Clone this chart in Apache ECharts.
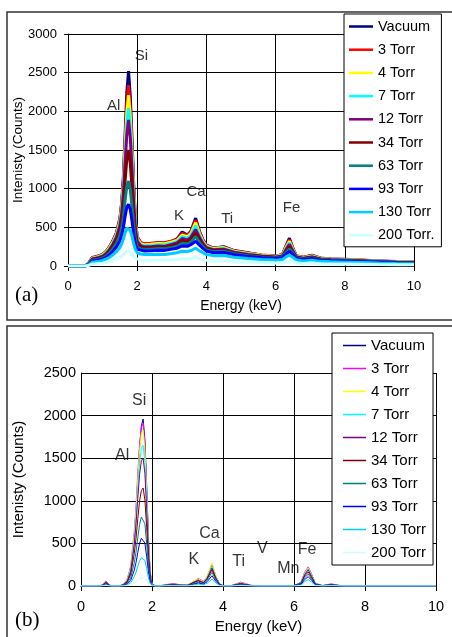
<!DOCTYPE html>
<html><head><meta charset="utf-8">
<script src="https://cdn.jsdelivr.net/npm/echarts@6/dist/echarts.min.js"></script>
<style>
html,body{margin:0;padding:0;background:#fff;}
#ca{position:absolute;left:0;top:0;width:452px;height:323px;}
#cb{position:absolute;left:0;top:323px;width:452px;height:314px;}
</style>
</head><body>
<div id="ca"></div><div id="cb"></div>
<script>
// ---- shared energy axis (keV) ----
const energy = [0,0.5,0.6,0.7,0.8,0.9,1.0,1.1,1.2,1.3,1.4,1.5,1.55,1.6,1.65,1.7,1.75,1.8,1.85,1.9,1.95,2.0,2.1,2.2,2.4,2.6,2.8,3.0,3.15,3.3,3.45,3.55,3.69,3.8,3.9,4.0,4.2,4.5,4.8,5.2,5.6,6.0,6.2,6.3,6.4,6.5,6.6,6.8,7.05,7.3,7.6,8.0,8.5,9.0,9.5,10.0];

const namesA = ['Vacuum','3 Torr','4 Torr','7 Torr','12 Torr','34 Torr','63 Torr','93 Torr','130 Torr','200 Torr.'];
const namesB = ['Vacuum','3 Torr','4 Torr','7 Torr','12 Torr','34 Torr','63 Torr','93 Torr','130 Torr','200 Torr'];
const colorsA = ['#000080','#FF0000','#FFFF00','#00FFFF','#800080','#800000','#008080','#0000FF','#00CCFF','#CCFFFF'];
const colorsB = ['#000080','#FF00FF','#FFFF00','#00FFFF','#800080','#800000','#008080','#0000FF','#00CCFF','#CCFFFF'];

// ---- panel (a) spectra ----
const a_vac  = [0,0,40,110,120,135,150,190,250,330,430,620,820,1150,1700,2250,2520,2200,1650,1050,600,380,300,280,285,300,295,320,350,440,400,450,620,450,340,270,230,250,200,170,140,125,150,260,360,230,130,110,140,100,90,85,75,65,55,50];
const a_3t   = [0,0,35,105,118,130,148,185,245,325,425,600,790,1100,1600,2100,2340,2050,1540,990,575,370,305,290,295,305,300,325,345,420,395,440,590,440,335,268,232,245,198,168,142,128,148,250,340,225,132,112,135,102,92,86,76,66,58,55];
const a_4t   = [0,0,32,100,112,125,142,178,236,312,410,575,760,1050,1520,1980,2210,1940,1460,940,550,355,290,275,280,290,288,310,330,400,380,420,560,420,320,258,225,238,192,162,138,124,142,240,320,215,128,108,130,98,88,82,73,63,55,50];
const a_7t   = [0,0,30,95,105,118,135,170,225,298,392,550,720,990,1420,1840,2040,1790,1350,870,515,340,275,262,266,275,272,295,315,380,360,395,520,395,305,248,218,228,186,156,132,120,136,225,300,205,122,104,124,95,85,80,70,61,52,48];
const a_12t  = [0,0,28,90,100,112,128,160,212,282,372,520,680,930,1320,1700,1890,1660,1250,810,485,320,262,248,250,258,256,278,298,355,338,370,470,370,290,238,210,218,178,150,128,115,130,212,280,195,118,100,118,92,82,76,68,58,50,45];
const a_34t  = [0,0,25,82,92,104,118,148,195,258,338,465,595,790,1100,1380,1500,1330,1010,670,410,280,245,235,238,245,242,262,280,330,315,345,420,340,272,226,200,205,168,142,122,110,124,195,250,180,112,95,112,88,78,72,64,55,47,42];
const a_63t  = [0,0,22,72,82,92,105,130,170,225,292,395,490,635,850,1030,1100,990,770,520,335,240,225,215,218,225,222,240,255,295,285,310,380,305,250,210,186,190,158,133,114,104,116,175,220,165,105,88,104,82,73,68,60,52,44,40];
const a_93t  = [0,0,18,62,70,80,92,112,146,190,245,325,395,495,640,760,800,730,580,405,280,215,205,195,198,205,202,218,230,260,255,275,320,270,228,192,172,175,146,123,106,96,106,155,190,148,98,82,96,76,68,63,56,48,41,38];
const a_130t = [0,0,14,48,55,62,72,88,112,145,185,240,285,345,430,490,500,465,385,285,210,170,155,148,150,152,150,162,172,190,188,200,230,198,172,148,134,136,114,96,84,76,84,118,140,112,78,65,76,60,54,50,44,38,33,30];
const a_200t = [0,0,8,25,28,32,36,44,56,70,88,110,125,145,175,195,200,190,160,125,98,82,76,72,74,75,74,80,84,92,90,96,110,96,84,73,66,67,56,48,42,38,42,58,70,56,39,33,38,30,27,25,22,19,17,15];

// ---- panel (b) spectra ----
const b_vac  = [0,0,10,55,10,0,0,3,15,50,160,560,860,1250,1620,1880,1960,1720,1180,560,160,30,0,0,15,25,15,10,35,75,45,100,240,110,25,5,0,35,5,0,0,5,40,150,220,130,30,5,20,5,0,0,0,0,0,0];
const b_3t   = [0,0,12,60,12,0,0,5,25,80,230,640,940,1320,1660,1860,1910,1650,1120,520,140,25,0,0,18,22,12,12,50,90,55,110,260,115,25,5,0,45,8,0,0,5,45,160,225,135,30,5,25,5,0,0,0,0,0,0];
const b_4t   = [0,0,10,50,10,0,0,4,20,70,210,600,890,1260,1590,1790,1830,1600,1090,500,135,25,0,0,14,20,12,10,55,85,50,115,270,118,25,5,0,38,6,0,0,4,42,150,215,128,28,5,20,5,0,0,0,0,0,0];
const b_7t   = [0,0,9,45,9,0,0,4,18,62,190,540,800,1140,1440,1620,1650,1450,990,460,125,22,0,0,12,18,10,8,40,70,42,95,230,100,22,4,0,32,5,0,0,4,38,140,200,118,26,4,18,4,0,0,0,0,0,0];
const b_12t  = [0,0,8,42,8,0,0,3,16,56,170,490,730,1030,1310,1470,1500,1320,900,420,115,20,0,0,10,16,10,8,38,65,40,88,210,92,20,4,0,30,5,0,0,4,35,130,190,110,24,4,16,4,0,0,0,0,0,0];
const b_34t  = [0,0,8,40,8,0,0,3,14,45,135,380,560,790,1000,1120,1150,1010,690,320,90,16,0,0,9,14,8,6,35,60,38,80,190,85,18,3,0,25,4,0,0,3,30,115,165,95,20,3,14,3,0,0,0,0,0,0];
const b_63t  = [0,0,6,30,6,0,0,2,10,32,95,270,400,570,720,810,830,730,500,235,65,12,0,0,7,10,6,5,25,45,28,65,160,70,15,3,0,20,3,0,0,3,25,95,140,80,17,3,12,3,0,0,0,0,0,0];
const b_93t  = [0,0,5,25,5,0,0,2,7,22,65,185,275,395,500,560,575,505,345,165,45,8,0,0,5,8,5,4,18,35,22,50,120,55,12,2,0,15,2,0,0,2,20,75,110,65,14,2,10,2,0,0,0,0,0,0];
const b_130t = [0,0,3,15,3,0,0,1,4,13,38,110,162,232,295,332,340,300,205,98,28,5,0,0,3,5,3,2,10,22,14,32,80,36,8,1,0,10,1,0,0,1,12,50,75,44,9,1,6,1,0,0,0,0,0,0];
const b_200t = [0,0,1,5,1,0,0,0,1,4,11,30,45,65,82,93,95,84,58,28,8,2,0,0,1,2,1,1,4,8,5,10,28,12,3,0,0,4,0,0,0,0,4,15,35,20,4,0,2,0,0,0,0,0,0,0];

// ---- element annotations [text, keV, counts] ----
const labelsA = [['Si',2.12,2715],['Al',1.32,2069],['Ca',3.70,953],['K',3.21,647],['Ti',4.60,608],['Fe',6.46,754]];
const labelsB = [['Si',1.64,2175],['Al',1.16,1530],['Ca',3.62,620],['K',3.18,305],['Ti',4.44,282],['V',5.11,440],['Fe',6.37,425],['Mn',5.84,203]];

const xTicks = [0,2,4,6,8,10];
const yTicksA = [0,500,1000,1500,2000,2500,3000];
const yTicksB = [0,500,1000,1500,2000,2500];

const seriesA = [a_vac,a_3t,a_4t,a_7t,a_12t,a_34t,a_63t,a_93t,a_130t,a_200t];
const seriesB = [b_vac,b_3t,b_4t,b_7t,b_12t,b_34t,b_63t,b_93t,b_130t,b_200t];

const FONT = 'Liberation Sans, Arial, sans-serif';

function build(cfg){
  const series = cfg.data.map((arr,i)=>({
    name: cfg.names[i], type:'line', symbol:'none', showSymbol:false,
    animation:false, silent:true,
    data: energy.map((e,j)=>[e,arr[j]]),
    lineStyle:{color:cfg.colors[i], width:cfg.lw},
    itemStyle:{color:cfg.colors[i]}
  }));
  series.push({
    type:'scatter', name:'_labels', symbolSize:0.1, silent:true,
    itemStyle:{color:'rgba(0,0,0,0)'},
    data: cfg.labels.map(l=>[l[1],l[2],l[0]]),
    label:{show:true, position:'inside', formatter:p=>p.data[2], color:'#000', fontFamily:FONT, fontSize:cfg.lblFs},
    z:20
  });
  return {
    animation:false,
    backgroundColor:'transparent',
    grid:{left:cfg.grid[0], top:cfg.grid[1], width:cfg.grid[2], height:cfg.grid[3], containLabel:false, outerBoundsMode:'none'},
    xAxis:{type:'value', min:0, max:10, interval:2,
      name:'Energy (keV)', nameLocation:'middle', nameGap:cfg.xGap, nameMoveOverlap:false,
      nameTextStyle:{fontFamily:FONT, fontSize:cfg.nameFs, color:'#000'},
      axisLine:{show:true, onZero:false, lineStyle:{color:'#000', width:1}},
      axisTick:{show:true, inside:false, length:5, lineStyle:{color:'#000'}},
      axisLabel:{show:true, margin:cfg.xMargin, color:'#000', fontFamily:FONT, fontSize:cfg.fs, formatter:v=>String(v)},
      splitLine:{show:true, lineStyle:{color:'#000', width:1, type:'solid'}}
    },
    yAxis:{type:'value', min:0, max:cfg.ymax, interval:500,
      name:'Intenisty (Counts)', nameLocation:'middle', nameGap:cfg.yGap, nameRotate:90, nameMoveOverlap:false,
      nameTextStyle:{fontFamily:FONT, fontSize:cfg.yNameFs, color:'#000'},
      axisLine:{show:true, lineStyle:{color:'#000', width:1}},
      axisTick:{show:cfg.yTick, inside:false, length:4, lineStyle:{color:'#000'}},
      axisLabel:{show:true, margin:cfg.yMargin, color:'#000', fontFamily:FONT, fontSize:cfg.fs, formatter:v=>String(v)},
      splitLine:{show:true, lineStyle:{color:'#000', width:1, type:'solid'}}
    },
    legend:{show:true, orient:'vertical', left:cfg.leg[0], top:cfg.leg[1],
      data:cfg.names, icon:'rect', itemWidth:cfg.legItemW, itemHeight:cfg.legLw, itemGap:cfg.legGap,
      padding:cfg.legPad, backgroundColor:'#fff', borderColor:'#000', borderWidth:1,
      selectedMode:false, textStyle:{fontFamily:FONT, fontSize:cfg.legFs, color:'#000', lineHeight:14},
      itemStyle:{borderWidth:0}
    },
    graphic:[
      {type:'rect', shape:{x:7, y:cfg.box[0], width:460, height:cfg.box[1]}, style:{fill:'none', stroke:'#333', lineWidth:1.5}, z:-10, silent:true},
      {type:'text', left:15, top:cfg.tag[1], style:{text:cfg.tag[0], font:'21px Liberation Serif, Times New Roman, serif', fill:'#000'}, silent:true}
    ],
    series
  };
}

const chartA = echarts.init(document.getElementById('ca'), null, {renderer:'canvas'});
chartA.setOption(build({
  names:namesA, colors:colorsA, data:seriesA, labels:labelsA, lw:3,
  grid:[68,34,346,232], ymax:3000, fs:13, nameFs:14, yNameFs:13.5, lblFs:15, legFs:14.5,
  xGap:33, yGap:43, xMargin:14, yMargin:11, yTick:true,
  leg:[344,14], legPad:[5,7,4,5], legGap:8.2, legItemW:24, legLw:2.5,
  box:[12,308], tag:['(a)',285]
}));

const chartB = echarts.init(document.getElementById('cb'), null, {renderer:'canvas'});
chartB.setOption(build({
  names:namesB, colors:colorsB, data:seriesB, labels:labelsB, lw:1,
  grid:[81,50,355,213], ymax:2500, fs:14.5, nameFs:15, yNameFs:15, lblFs:16, legFs:15,
  xGap:33, yGap:55, xMargin:13, yMargin:5, yTick:false,
  leg:[332,10], legPad:[5,7,5,11], legGap:8, legItemW:23, legLw:1.5,
  box:[3,330], tag:['(b)',287]
}));
</script>
</body></html>
